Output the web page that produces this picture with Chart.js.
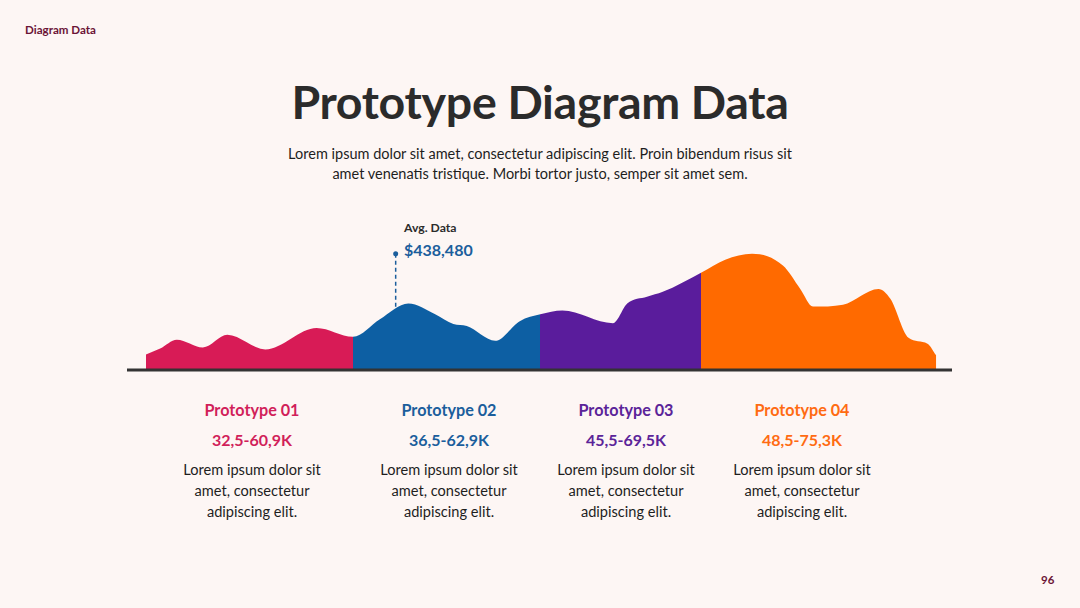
<!DOCTYPE html>
<html>
<head>
<meta charset="utf-8">
<script src="https://cdn.jsdelivr.net/npm/chart.js@4.4.0/dist/chart.umd.min.js"></script>
<style>
  html,body{margin:0;padding:0;}
  body{width:1080px;height:608px;background:#fdf6f4;position:relative;overflow:hidden;font-family:"Lato","Open Sans",sans-serif;color:#222;}
  .abs{position:absolute;white-space:nowrap;}
  #tag{left:25px;top:23px;font-size:11.6px;font-weight:700;color:#6b1436;}
  #page{left:1041px;top:573px;font-size:11.5px;font-weight:700;color:#6b1436;}
  #title{left:0;width:1080px;text-align:center;top:73px;font-size:46.5px;font-weight:700;color:#2b2b2b;letter-spacing:-0.3px;}
  #sub{left:0;width:1080px;text-align:center;top:144px;font-size:14.5px;line-height:20px;color:#1e1e1e;}
  #avgL{left:404px;top:220px;font-size:12.2px;font-weight:700;color:#2b2b2b;}
  #avgV{left:404px;top:240px;font-size:16px;font-weight:700;color:#1b5e9c;}
  canvas{position:absolute;left:0;top:200px;}
  .col{position:absolute;width:220px;text-align:center;}
  .col .n{font-size:16.2px;font-weight:700;height:20px;line-height:20px;}
  .col .r{font-size:16px;font-weight:700;margin-top:10px;height:20px;line-height:20px;}
  .col .d{font-size:14.6px;line-height:21px;margin-top:9px;color:#1e1e1e;}
</style>
</head>
<body>
<div class="abs" id="tag">Diagram Data</div>
<div class="abs" id="page">96</div>
<div class="abs" id="title">Prototype Diagram Data</div>
<div class="abs" id="sub">Lorem ipsum dolor sit amet, consectetur adipiscing elit. Proin bibendum risus sit<br>amet venenatis tristique. Morbi tortor justo, semper sit amet sem.</div>
<div class="abs" id="avgL">Avg. Data</div>
<div class="abs" id="avgV">$438,480</div>
<canvas id="c" width="1080" height="180"></canvas>
<div id="cols"></div>
<script>
// ---- data ----
const categories = ["Prototype 01","Prototype 02","Prototype 03","Prototype 04"];
const ranges = ["32,5-60,9K","36,5-62,9K","45,5-69,5K","48,5-75,3K"];
const descriptions = ["Lorem ipsum dolor sit amet, consectetur adipiscing elit.","Lorem ipsum dolor sit amet, consectetur adipiscing elit.","Lorem ipsum dolor sit amet, consectetur adipiscing elit.","Lorem ipsum dolor sit amet, consectetur adipiscing elit."];
const colors = ["#d81b56","#0d5fa3","#5a1c9c","#ff6a00"];
const textColors = ["#d11f5a","#1b5e9c","#5b2499","#ff6b12"];

const pos01 = [0, 1.8, 3.9, 7.2, 10.3, 15.1, 21.6, 26.2];
const val01 = [13.3, 18.3, 25.8, 19.2, 30, 17.5, 35.8, 28.3];
const pos02 = [26.2, 29.6, 33.2, 36.6, 38.9, 40.6, 44.2, 47.3, 49.9];
const val02 = [28.3, 43.3, 56.7, 47.5, 39.2, 37.5, 25, 41.7, 47.5];
const pos03 = [49.9, 52.7, 59.1, 60.9, 63.4, 65.4, 70.3];
const val03 = [47.5, 50.8, 40, 56.7, 62.5, 66.7, 83.3];
const pos04 = [70.3, 73.3, 76.7, 80.6, 82.8, 84.4, 88.2, 92.7, 94.2, 96.5, 98.9, 100];
const val04 = [83.3, 94.2, 99.2, 89.2, 69.2, 54.2, 55.8, 69.2, 60.8, 27.5, 22.5, 12.5];

const avgPos = 31.6;
const avgMarker = [54, 99.2];
const axisRange = [-2.4, 102];

// ---- build ----
const series = [[pos01,val01],[pos02,val02],[pos03,val03],[pos04,val04]];
// one continuous outline, de-duplicating the shared junction points
const merged = [];
series.forEach((s,si)=>{
  s[0].forEach((x,i)=>{
    if (si>0 && i===0) return;
    merged.push({x:x, y:s[1][i]});
  });
});
const boundaries = series.map(s=>s[0][0]).concat([series[3][0][series[3][0].length-1]]);

function areaFill(ctx){
  const chart = ctx.chart;
  const area = chart.chartArea;
  if (!area) return colors[0];
  const xs = chart.scales.x;
  const x0 = xs.getPixelForValue(boundaries[0]);
  const x1 = xs.getPixelForValue(boundaries[4]);
  const g = chart.ctx.createLinearGradient(x0, 0, x1, 0);
  for (let i=0;i<4;i++){
    const a = (xs.getPixelForValue(boundaries[i]) - x0)/(x1-x0);
    const b = (xs.getPixelForValue(boundaries[i+1]) - x0)/(x1-x0);
    g.addColorStop(Math.max(0,Math.min(1,a)), colors[i]);
    g.addColorStop(Math.max(0,Math.min(1,b)), colors[i]);
  }
  return g;
}

const datasets = [{
  label: 'Prototypes',
  data: merged,
  backgroundColor: areaFill,
  borderWidth: 0,
  pointRadius: 0,
  fill: 'origin',
  tension: 0.4,
  cubicInterpolationMode: 'monotone',
  order: 1
},{
  label: 'axis',
  data: axisRange.map(x=>({x:x,y:0})),
  borderColor: '#333333',
  borderWidth: 3,
  pointRadius: 0,
  fill: false,
  order: -1,
  clip: false
},{
  label: 'avg',
  data: avgMarker.map(y=>({x:avgPos,y:y})),
  borderColor: '#1b5e9c',
  borderWidth: 1.5,
  borderDash: [4,3],
  pointRadius: [0,2.5],
  pointBackgroundColor: '#1b5e9c',
  pointBorderWidth: 0,
  fill: false,
  order: -2,
  clip: false
}];

new Chart(document.getElementById('c'), {
  type: 'line',
  data: { datasets },
  options: {
    responsive: false,
    animation: false,
    events: [],
    layout: { padding: { left: 127, right: 128, top: 0, bottom: 10 } },
    plugins: { legend: { display: false }, tooltip: { enabled: false } },
    scales: {
      x: { type: 'linear', display: false, min: axisRange[0], max: axisRange[1] },
      y: { display: false, min: 0, max: 141.7 }
    }
  }
});

const centers = [252, 449, 626, 802];
const cols = document.getElementById('cols');
categories.forEach((c,i)=>{
  const d = document.createElement('div');
  d.className = 'col';
  d.style.left = (centers[i]-110)+'px';
  d.style.top = '400px';
  const words = descriptions[i].split(' ');
  d.innerHTML = '<div class="n" style="color:'+textColors[i]+'">'+c+'</div>'+
    '<div class="r" style="color:'+textColors[i]+'">'+ranges[i]+'</div>'+
    '<div class="d">'+words.slice(0,4).join(' ')+'<br>'+words.slice(4,6).join(' ')+'<br>'+words.slice(6).join(' ')+'</div>';
  cols.appendChild(d);
});
</script>
</body>
</html>
